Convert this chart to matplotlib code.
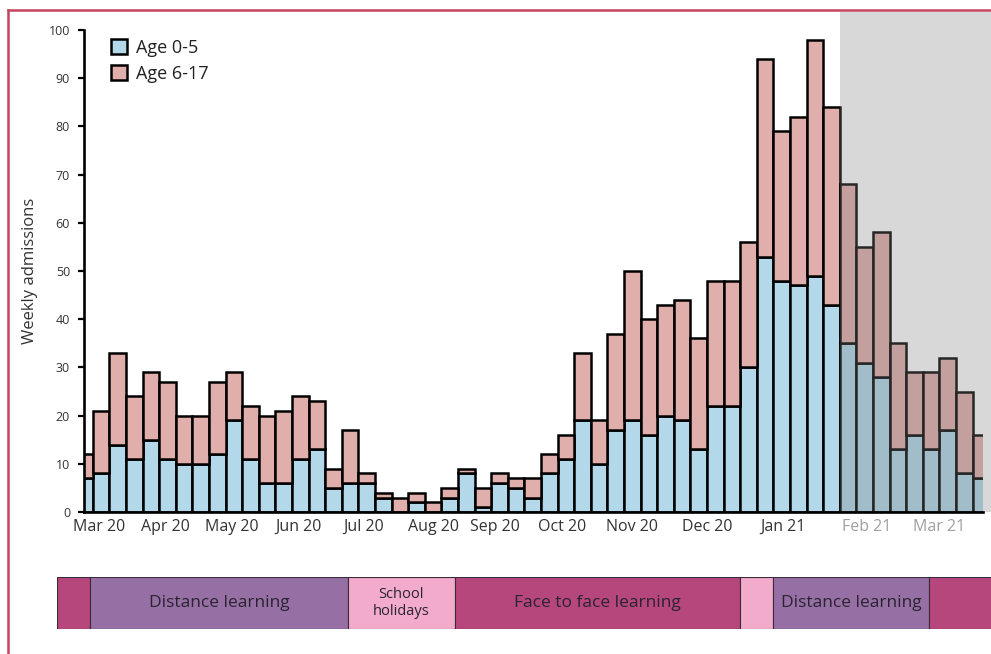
import matplotlib
matplotlib.use('Agg')
import matplotlib.pyplot as plt
from matplotlib.patches import Patch, Rectangle
from matplotlib.lines import Line2D
import numpy as np

plt.rcParams['font.family'] = ['Open Sans', 'DejaVu Sans']

# ─── DONNÉES ──────────────────────────────────────────────────────────────
# admissions hebdomadaires, de début mars 2020 à fin mars 2021
total = [12, 21, 33, 24, 29, 27, 20, 20, 27, 29, 22, 20, 21, 24, 23, 9,
         17, 8, 4, 3, 4, 2, 5, 9, 5, 8, 7, 7, 12, 16, 33, 19,
         37, 50, 40, 43, 44, 36, 48, 48, 56, 94, 79, 82, 98, 84,
         68, 55, 58, 35, 29, 29, 32, 25, 16]
age_0_5 = [7, 8, 14, 11, 15, 11, 10, 10, 12, 19, 11, 6, 6, 11, 13, 5,
           6, 6, 3, 0, 2, 0, 3, 8, 1, 6, 5, 3, 8, 11, 19, 10,
           17, 19, 16, 20, 19, 13, 22, 22, 30, 53, 48, 47, 49, 43,
           35, 31, 28, 13, 16, 13, 17, 8, 7]
age_6_17 = [t - a for t, a in zip(total, age_0_5)]

mois_pos = [0.88, 4.86, 8.9, 12.9, 16.8, 21.0, 24.75, 28.8, 33.0, 37.5, 42.1, 47.1, 51.5]
mois_lab = ['Mar 20', 'Apr 20', 'May 20', 'Jun 20', 'Jul 20', 'Aug 20', 'Sep 20',
            'Oct 20', 'Nov 20', 'Dec 20', 'Jan 21', 'Feb 21', 'Mar 21']
debut_gris = 45.5  # semaines non consolidées

# frise des périodes scolaires (bornes en semaines)
periodes_debut = [-1.65, 0.34, 15.9, 22.3, 39.5, 41.5, 50.9]
periodes_fin   = [0.34, 15.9, 22.3, 39.5, 41.5, 50.9, 55.0]
periodes_lab   = ['', 'Distance learning', 'School\nholidays', 'Face to face learning',
                  '', 'Distance learning', '']
periodes_type  = ['ecole', 'distance', 'vacances', 'ecole', 'vacances', 'distance', 'ecole']

# ─── STYLE ────────────────────────────────────────────────────────────────
C_BLEU = '#b2d8ea'
C_ROSE = '#e1afab'
C_TEXTE = '#333333'
C_CADRE = '#c4445f'
COUL_PERIODE = {'ecole': '#b6477c', 'distance': '#9670a5', 'vacances': '#f2abca'}

W, H = 991, 654
fig = plt.figure(figsize=(W / 100, H / 100), dpi=100)

def px(x0, y0, x1, y1):
    # rectangle en pixels (origine en haut à gauche) -> coordonnées figure
    return [x0 / W, 1 - y1 / H, (x1 - x0) / W, (y1 - y0) / H]

ax = fig.add_axes(px(84, 30, 983, 512))
x = np.arange(len(total))

ax.bar(x, age_0_5, width=1.0, color=C_BLEU, edgecolor='black', linewidth=1.8, zorder=1)
ax.bar(x, age_6_17, width=1.0, bottom=age_0_5, color=C_ROSE, edgecolor='black',
       linewidth=1.8, zorder=1)

ax.set_xlim(-0.03, 54.13)
ax.set_ylim(0, 100)

# voile gris sur les dernières semaines
ax.add_patch(Rectangle((debut_gris, 0), 20, 100 * (512 - 12) / 482, facecolor='#808080',
                       alpha=0.3, edgecolor='none', zorder=2.1, clip_on=False))

ax.spines['top'].set_visible(False)
ax.spines['right'].set_visible(False)
for s in ['left', 'bottom']:
    ax.spines[s].set_linewidth(1.9)
    ax.spines[s].set_zorder(3)

ax.set_yticks(range(0, 101, 10))
ax.tick_params(axis='y', length=4, width=1.6, pad=6, labelsize=9, labelcolor=C_TEXTE)
ax.set_xticks(mois_pos)
ax.set_xticklabels(mois_lab)
ax.tick_params(axis='x', length=0, pad=5, labelsize=11.5, labelcolor=C_TEXTE)
for lab in ax.get_xticklabels()[-2:]:
    lab.set_color('#a0a0a0')

ax.set_ylabel('Weekly admissions', fontsize=12, color=C_TEXTE)
ax.yaxis.set_label_coords(-0.051, 0.5)

handles = [Patch(facecolor=C_BLEU, edgecolor='black', linewidth=1.8, label='Age 0-5'),
           Patch(facecolor=C_ROSE, edgecolor='black', linewidth=1.8, label='Age 6-17')]
ax.legend(handles=handles, loc='upper left', bbox_to_anchor=(0.012, 1.015), frameon=False,
          fontsize=13, handlelength=0.9, handleheight=0.9, handletextpad=0.5,
          labelspacing=0.45, labelcolor='#222222')

# ─── FRISE ────────────────────────────────────────────────────────────────
axf = fig.add_axes(px(57, 577, 991, 629))
axf.set_xlim((57 - 84.4) / 16.6, (991 - 84.4) / 16.6)
axf.set_ylim(0, 1)
axf.axis('off')
for d, f, lab, typ in zip(periodes_debut, periodes_fin, periodes_lab, periodes_type):
    axf.add_patch(Rectangle((d, 0), f - d, 1, facecolor=COUL_PERIODE[typ],
                            edgecolor='#3a2a3a', linewidth=0.8))
    if lab:
        taille = 10.5 if '\n' in lab else 12.5
        axf.text((d + f) / 2, 0.5, lab, ha='center', va='center', fontsize=taille,
                 color='#2a2330', linespacing=1.15)

# cadre rouge autour de la figure
fig.add_artist(Line2D([8 / W, 8 / W], [0, 1 - 10 / H], color=C_CADRE, linewidth=1.8))
fig.add_artist(Line2D([8 / W, 1], [1 - 10 / H, 1 - 10 / H], color=C_CADRE, linewidth=1.8))

fig.savefig('out.png', dpi=100)
